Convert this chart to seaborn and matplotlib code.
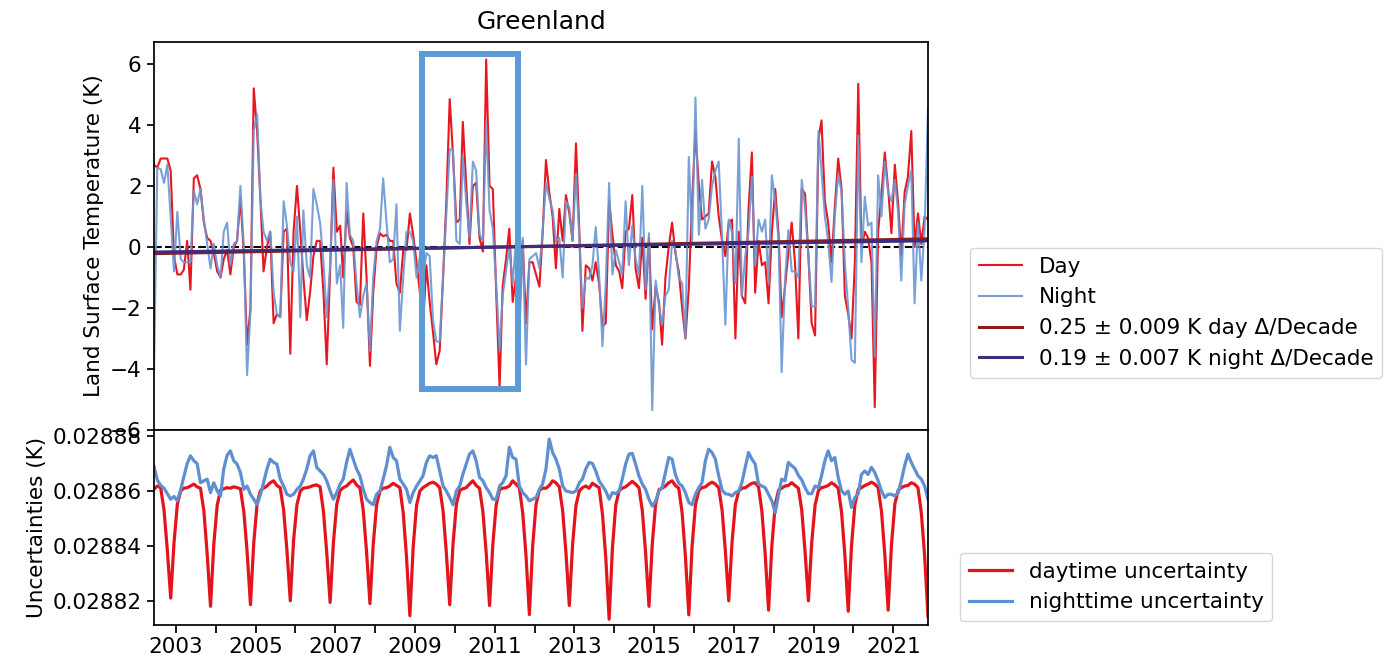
import numpy as np
import pandas as pd
import matplotlib
matplotlib.use("Agg")
import matplotlib.pyplot as plt
import matplotlib.dates as mdates
from matplotlib.patches import Rectangle
from matplotlib.ticker import FuncFormatter, FormatStrFormatter, MultipleLocator
import seaborn as sns

# ---------------- data (monthly, Jun 2002 .. Nov 2021) ----------------
start_month = "2002-06-01"
n_months = 234

day_anomaly = [
    2.7, 2.6, 2.9, 2.9, 2.9, 2.5, -0.3,                                   # 2002 Jun-Dec
    -0.9, -0.9, -0.75, 0.2, -1.4, 2.25, 2.35, 1.9, 0.8, 0.3, 0.2, -0.2,   # 2003
    -0.8, -1.0, -0.4, -0.1, -0.9, 0.0, 0.2, 1.6, -0.2, -3.2, -2.0, 5.2,   # 2004
    3.8, 1.5, -0.8, 0.0, 0.5, -2.5, -2.2, -2.3, 0.5, 0.6, -3.5, 0.5,      # 2005
    2.0, 0.5, -1.0, -2.4, -1.5, -0.3, 0.2, 0.2, -1.5, -3.85, -0.8, 2.6,   # 2006
    0.5, 0.7, -1.0, 1.2, 0.3, 0.0, -1.8, -1.9, 1.1, -1.0, -3.9, -1.5,     # 2007
    0.0, 0.45, 0.35, 0.4, 0.2, 0.2, -1.2, -1.5, -0.1, -0.1, 1.1, 0.4,     # 2008
    -0.5, -1.5, -2.6, -0.6, -1.8, -2.8, -3.85, -3.4, -1.0, 1.5, 4.85, 3.0,  # 2009
    0.8, 0.9, 4.1, 2.1, 0.1, 2.0, 2.1, 0.3, -0.15, 6.15, 2.0, 1.9,        # 2010
    -1.5, -4.6, -1.3, -0.4, 0.6, -1.8, -1.0, -2.3, 0.2, -2.5, -0.5, -0.5, # 2011
    -0.9, -1.3, 0.4, 2.85, 1.8, 1.0, -0.7, 1.25, 0.2, 1.7, 1.1, 0.2,      # 2012
    3.4, 0.5, -2.75, -0.6, -0.7, -1.1, -0.5, -1.2, -2.6, -2.5, 1.5, 0.4,  # 2013
    -0.6, -0.8, -1.35, 0.5, 0.6, 1.7, -0.7, -1.35, 0.3, -1.7, 0.3, -2.7,  # 2014
    -1.3, -1.8, -3.2, -1.0, 0.0, 0.8, -0.2, -0.8, -2.0, -3.0, -1.35, 1.5, # 2015
    3.8, 2.0, 0.9, 1.0, 1.1, 2.8, 2.3, 1.0, 0.2, -0.3, 0.8, 0.9,          # 2016
    -3.0, 0.5, -1.6, -1.85, 1.2, 3.1, -1.5, 0.2, -0.6, -0.5, -1.85, 0.5,  # 2017
    1.9, 0.4, -2.3, -1.3, -0.2, 0.8, -0.5, -3.0, 1.9, 1.75, -0.3, -2.5,   # 2018
    -2.9, 3.5, 4.15, 1.5, 0.8, -0.5, 1.3, 2.9, 1.9, -1.6, -2.2, -3.0,     # 2019
    -0.5, 5.35, 0.0, 0.5, 0.3, -0.5, -5.25, 0.5, 1.75, 3.1, 1.9, 0.45,    # 2020
    2.7, 1.4, -0.3, 1.8, 2.3, 3.8, 0.0, 1.1, 0.1, 1.0, 0.9,               # 2021 Jan-Nov
]

night_anomaly = [
    -4.1, 2.6, 2.55, 2.1, 2.7, 1.0, -0.8,                                 # 2002
    1.15, -0.4, -0.5, -0.5, -0.5, 1.85, 1.4, 1.9, 0.9, 0.1, -0.7, 0.1,    # 2003
    -0.6, -1.0, 0.5, 0.8, -0.6, 0.1, 0.2, 2.0, 0.0, -4.2, -2.1, 3.8,      # 2004
    4.35, 1.5, 0.5, 0.2, 0.5, -1.5, -2.2, -2.3, 1.5, 0.7, -0.5, -0.8,     # 2005
    1.0, -2.3, 1.2, -0.6, -1.0, 1.9, 1.4, 0.8, -0.5, -2.3, -0.6, 2.2,     # 2006
    -1.2, -0.6, -2.65, 2.1, 0.4, 0.2, -1.2, -2.3, -1.6, -1.2, -3.4, -1.0, # 2007
    0.2, 0.6, 2.25, 0.8, -0.5, -0.4, 1.4, -2.75, -1.0, 0.5, 0.5, 0.2,     # 2008
    -1.0, -0.3, -1.0, -0.2, -0.3, -2.4, -3.1, -3.1, -1.0, 1.0, 3.2, 3.2,  # 2009
    0.2, 0.1, 3.0, 1.5, 0.3, 2.8, 2.5, 0.4, 0.2, 4.1, 1.2, 0.6,           # 2010
    -1.2, -3.4, -1.6, -0.8, 0.0, -1.2, 0.2, -3.0, 0.3, -3.85, -0.4, -0.3, # 2011
    -0.2, -0.7, 0.5, 2.1, 1.6, 1.2, 0.2, 0.3, -1.0, 1.5, 1.3, 0.2,        # 2012
    2.4, 0.3, -2.0, -1.0, -1.05, -0.6, 0.65, -0.9, -3.25, -1.2, 2.1, -0.9,  # 2013
    -0.1, -0.5, -0.9, 1.5, -0.6, 0.7, -0.4, -0.9, 2.0, -1.4, 0.45, -5.35, # 2014
    -1.1, -1.95, -2.55, -1.6, -1.4, 0.2, -0.1, -1.0, -1.2, -3.0, 2.95, 0.2,  # 2015
    4.9, 0.4, 2.2, 0.6, 0.9, 2.0, 2.5, 2.8, 0.3, -2.55, 0.9, 0.5,         # 2016
    -1.2, 3.55, -1.6, -0.3, 0.5, 2.3, -0.6, 0.9, 0.5, 0.9, -1.2, 2.35,    # 2017
    1.5, 0.2, -4.1, -1.1, 0.55, -0.8, -0.8, -1.0, 2.2, 1.3, -0.3, -1.95,  # 2018
    -1.95, 3.8, 2.5, 1.0, 0.2, -1.15, 1.0, 2.4, 1.8, -0.5, -2.0, -3.7,    # 2019
    -3.8, 3.65, -0.5, 1.65, 0.7, 0.8, -3.6, 2.35, 1.0, 2.8, 1.8, 1.5,     # 2020
    2.2, 1.1, -1.1, 1.4, 2.0, 2.5, -1.85, 0.8, -1.1, 0.6, 4.5,            # 2021
]

day_uncertainty = [
    0.0288606, 0.0288618, 0.0288612, 0.0288530, 0.0288385, 0.0288210, 0.0288410,
    0.0288552, 0.0288600, 0.0288610, 0.0288612, 0.0288618, 0.0288625, 0.0288615, 0.0288610, 0.0288528, 0.0288372, 0.0288180, 0.0288405,
    0.0288548, 0.0288603, 0.0288608, 0.0288612, 0.0288610, 0.0288615, 0.0288612, 0.0288608, 0.0288525, 0.0288380, 0.0288186, 0.0288410,
    0.0288555, 0.0288602, 0.0288610, 0.0288618, 0.0288630, 0.0288637, 0.0288620, 0.0288612, 0.0288530, 0.0288385, 0.0288200, 0.0288420,
    0.0288550, 0.0288600, 0.0288610, 0.0288612, 0.0288615, 0.0288620, 0.0288622, 0.0288615, 0.0288525, 0.0288375, 0.0288194, 0.0288412,
    0.0288552, 0.0288602, 0.0288612, 0.0288618, 0.0288630, 0.0288640, 0.0288622, 0.0288612, 0.0288528, 0.0288378, 0.0288190, 0.0288405,
    0.0288550, 0.0288600, 0.0288610, 0.0288612, 0.0288618, 0.0288628, 0.0288620, 0.0288612, 0.0288520, 0.0288360, 0.0288146, 0.0288395,
    0.0288548, 0.0288600, 0.0288612, 0.0288620, 0.0288628, 0.0288632, 0.0288625, 0.0288612, 0.0288528, 0.0288375, 0.0288186, 0.0288405,
    0.0288552, 0.0288602, 0.0288608, 0.0288612, 0.0288625, 0.0288637, 0.0288620, 0.0288610, 0.0288525, 0.0288376, 0.0288183, 0.0288405,
    0.0288550, 0.0288605, 0.0288610, 0.0288612, 0.0288618, 0.0288637, 0.0288625, 0.0288612, 0.0288520, 0.0288365, 0.0288150, 0.0288398,
    0.0288552, 0.0288603, 0.0288610, 0.0288610, 0.0288620, 0.0288637, 0.0288630, 0.0288615, 0.0288528, 0.0288376, 0.0288183, 0.0288405,
    0.0288548, 0.0288600, 0.0288612, 0.0288618, 0.0288610, 0.0288628, 0.0288620, 0.0288612, 0.0288515, 0.0288358, 0.0288133, 0.0288392,
    0.0288550, 0.0288602, 0.0288610, 0.0288615, 0.0288625, 0.0288635, 0.0288625, 0.0288612, 0.0288528, 0.0288375, 0.0288180, 0.0288405,
    0.0288552, 0.0288605, 0.0288610, 0.0288618, 0.0288630, 0.0288637, 0.0288620, 0.0288610, 0.0288520, 0.0288362, 0.0288149, 0.0288398,
    0.0288550, 0.0288602, 0.0288612, 0.0288615, 0.0288625, 0.0288632, 0.0288625, 0.0288612, 0.0288530, 0.0288382, 0.0288200, 0.0288412,
    0.0288552, 0.0288600, 0.0288610, 0.0288612, 0.0288620, 0.0288628, 0.0288630, 0.0288615, 0.0288525, 0.0288370, 0.0288166, 0.0288400,
    0.0288550, 0.0288603, 0.0288610, 0.0288618, 0.0288620, 0.0288630, 0.0288620, 0.0288610, 0.0288530, 0.0288382, 0.0288200, 0.0288410,
    0.0288548, 0.0288602, 0.0288612, 0.0288615, 0.0288620, 0.0288630, 0.0288622, 0.0288610, 0.0288522, 0.0288368, 0.0288162, 0.0288400,
    0.0288550, 0.0288605, 0.0288612, 0.0288620, 0.0288625, 0.0288632, 0.0288625, 0.0288612, 0.0288525, 0.0288370, 0.0288166, 0.0288402,
    0.0288552, 0.0288603, 0.0288612, 0.0288618, 0.0288620, 0.0288630, 0.0288625, 0.0288612, 0.0288520, 0.0288365, 0.0288143,
]

night_uncertainty = [
    0.0288690, 0.0288640, 0.0288620, 0.0288610, 0.0288590, 0.0288570, 0.0288580,
    0.0288564, 0.0288606, 0.0288650, 0.0288700, 0.0288728, 0.0288710, 0.0288700, 0.0288630, 0.0288637, 0.0288643, 0.0288594, 0.0288630,
    0.0288600, 0.0288582, 0.0288680, 0.0288730, 0.0288746, 0.0288710, 0.0288698, 0.0288667, 0.0288606, 0.0288618, 0.0288588, 0.0288570,
    0.0288550, 0.0288588, 0.0288630, 0.0288680, 0.0288716, 0.0288704, 0.0288698, 0.0288643, 0.0288618, 0.0288588, 0.0288582, 0.0288588,
    0.0288606, 0.0288618, 0.0288643, 0.0288680, 0.0288728, 0.0288746, 0.0288686, 0.0288673, 0.0288660, 0.0288637, 0.0288600, 0.0288570,
    0.0288594, 0.0288625, 0.0288643, 0.0288704, 0.0288752, 0.0288716, 0.0288680, 0.0288655, 0.0288606, 0.0288570, 0.0288558, 0.0288550,
    0.0288588, 0.0288600, 0.0288643, 0.0288692, 0.0288759, 0.0288722, 0.0288710, 0.0288643, 0.0288625, 0.0288606, 0.0288558, 0.0288594,
    0.0288618, 0.0288637, 0.0288655, 0.0288704, 0.0288728, 0.0288722, 0.0288728, 0.0288673, 0.0288618, 0.0288600, 0.0288576, 0.0288550,
    0.0288600, 0.0288618, 0.0288660, 0.0288698, 0.0288734, 0.0288746, 0.0288710, 0.0288650, 0.0288637, 0.0288612, 0.0288594, 0.0288570,
    0.0288570, 0.0288618, 0.0288630, 0.0288655, 0.0288759, 0.0288722, 0.0288716, 0.0288618, 0.0288594, 0.0288582, 0.0288564, 0.0288570,
    0.0288576, 0.0288606, 0.0288625, 0.0288680, 0.0288789, 0.0288740, 0.0288716, 0.0288680, 0.0288618, 0.0288600, 0.0288597, 0.0288594,
    0.0288600, 0.0288630, 0.0288643, 0.0288680, 0.0288704, 0.0288700, 0.0288673, 0.0288637, 0.0288618, 0.0288600, 0.0288570, 0.0288594,
    0.0288590, 0.0288600, 0.0288643, 0.0288698, 0.0288734, 0.0288737, 0.0288698, 0.0288655, 0.0288625, 0.0288606, 0.0288570, 0.0288545,
    0.0288564, 0.0288600, 0.0288612, 0.0288667, 0.0288722, 0.0288716, 0.0288660, 0.0288628, 0.0288618, 0.0288594, 0.0288558, 0.0288550,
    0.0288588, 0.0288612, 0.0288630, 0.0288710, 0.0288752, 0.0288740, 0.0288716, 0.0288655, 0.0288603, 0.0288590, 0.0288588, 0.0288582,
    0.0288594, 0.0288600, 0.0288630, 0.0288686, 0.0288740, 0.0288716, 0.0288698, 0.0288625, 0.0288618, 0.0288612, 0.0288588, 0.0288564,
    0.0288521, 0.0288588, 0.0288643, 0.0288637, 0.0288704, 0.0288692, 0.0288682, 0.0288657, 0.0288640, 0.0288612, 0.0288590, 0.0288590,
    0.0288618, 0.0288612, 0.0288655, 0.0288710, 0.0288746, 0.0288710, 0.0288722, 0.0288650, 0.0288600, 0.0288588, 0.0288600, 0.0288540,
    0.0288576, 0.0288590, 0.0288660, 0.0288673, 0.0288660, 0.0288686, 0.0288667, 0.0288637, 0.0288600, 0.0288576, 0.0288588, 0.0288588,
    0.0288582, 0.0288594, 0.0288637, 0.0288692, 0.0288734, 0.0288704, 0.0288680, 0.0288655, 0.0288643, 0.0288618, 0.0288570,
]

# decadal trends (K / decade) as quoted in the legend
trend_day_per_decade = 0.25
trend_night_per_decade = 0.19
trend_center_year = 2011.2
trend_labels = ["0.25 \u00b1 0.009 K day \u0394/Decade",
                "0.19 \u00b1 0.007 K night \u0394/Decade"]

highlight_start = "2009-03-08"
highlight_end = "2011-08-04"
highlight_low, highlight_high = -4.67, 6.33

# ---------------- derived ----------------
dates = pd.date_range(start_month, periods=n_months, freq="MS") + pd.Timedelta(days=14)
frac_year = dates.year + (dates.dayofyear - 1) / 365.25
trend_day = trend_day_per_decade / 10.0 * (frac_year - trend_center_year)
trend_night = trend_night_per_decade / 10.0 * (frac_year - trend_center_year)

# ---------------- style ----------------
FS = 15.5
plt.rcParams.update({
    "font.family": ["DejaVu Sans"],
    "font.size": FS,
    "axes.linewidth": 1.25,
    "xtick.major.size": 5.4,
    "ytick.major.size": 5.4,
    "xtick.major.width": 1.25,
    "ytick.major.width": 1.25,
    "xtick.labelsize": FS,
    "ytick.labelsize": FS,
    "legend.fontsize": FS,
})

RED = "#E8161E"
BLUE = "#6A97D3"
TREND_DAY = "#8E1B1B"
TREND_NIGHT = "#3E2C7C"

W, H = 1388, 664
fig = plt.figure(figsize=(W / 100, H / 100), dpi=100)
ax1 = fig.add_axes([154 / W, 1 - 430 / H, 774 / W, 388 / H])
ax2 = fig.add_axes([154 / W, 1 - 625 / H, 774 / W, 195 / H], sharex=ax1)

# top panel
sns.lineplot(x=dates, y=day_anomaly, ax=ax1, color=RED, lw=1.5, label="Day")
sns.lineplot(x=dates, y=night_anomaly, ax=ax1, color=BLUE, lw=1.5, alpha=0.9, label="Night")
ax1.axhline(0, color="black", ls="--", lw=1.5, zorder=1)
sns.lineplot(x=dates, y=trend_day, ax=ax1, color=TREND_DAY, lw=2.2, label=trend_labels[0])
sns.lineplot(x=dates, y=trend_night, ax=ax1, color=TREND_NIGHT, lw=2.2, label=trend_labels[1])
if ax1.get_legend() is not None:
    ax1.get_legend().remove()

x0 = mdates.date2num(pd.Timestamp(highlight_start))
x1 = mdates.date2num(pd.Timestamp(highlight_end))
ax1.add_patch(Rectangle((x0, highlight_low), x1 - x0, highlight_high - highlight_low,
                        fill=False, edgecolor="#5B9BD5", lw=4.3, zorder=10, clip_on=False))

ax1.set_ylim(-6.0, 6.72)
ax1.yaxis.set_major_locator(MultipleLocator(2))
ax1.set_ylabel("Land Surface Temperature (K)", fontsize=FS)
ax1.set_xlabel("")
ax1.set_title("Greenland", fontsize=18, pad=9)
ax1.tick_params(axis="x", length=0, labelbottom=False)

# bottom panel
sns.lineplot(x=dates, y=day_uncertainty, ax=ax2, color="#E3141B", lw=2.3, label="daytime uncertainty")
sns.lineplot(x=dates, y=night_uncertainty, ax=ax2, color="#5F8FD0", lw=2.3, label="nighttime uncertainty")
if ax2.get_legend() is not None:
    ax2.get_legend().remove()
ax2.set_ylim(0.0288112, 0.0288822)
ax2.yaxis.set_major_locator(MultipleLocator(0.00002))
ax2.yaxis.set_major_formatter(FormatStrFormatter("%.5f"))
ax2.set_ylabel("Uncertainties (K)", fontsize=FS)
ax2.set_xlabel("")

ax2.set_xlim(dates[0], dates[-1])
ax2.xaxis.set_major_locator(mdates.YearLocator(1))
ax2.xaxis.set_major_formatter(FuncFormatter(
    lambda v, pos: (str(mdates.num2date(v).year) if mdates.num2date(v).year % 2 == 1 else "")))

# legends
h1, l1 = ax1.get_legend_handles_labels()
fig.legend(h1, l1, loc="upper left", bbox_to_anchor=(970 / W, 1 - 248 / H),
           borderaxespad=0, frameon=True, fontsize=FS)
h2, l2 = ax2.get_legend_handles_labels()
fig.legend(h2, l2, loc="upper left", bbox_to_anchor=(960 / W, 1 - 553 / H),
           borderaxespad=0, frameon=True, fontsize=FS)

fig.savefig("out.png", dpi=100)
